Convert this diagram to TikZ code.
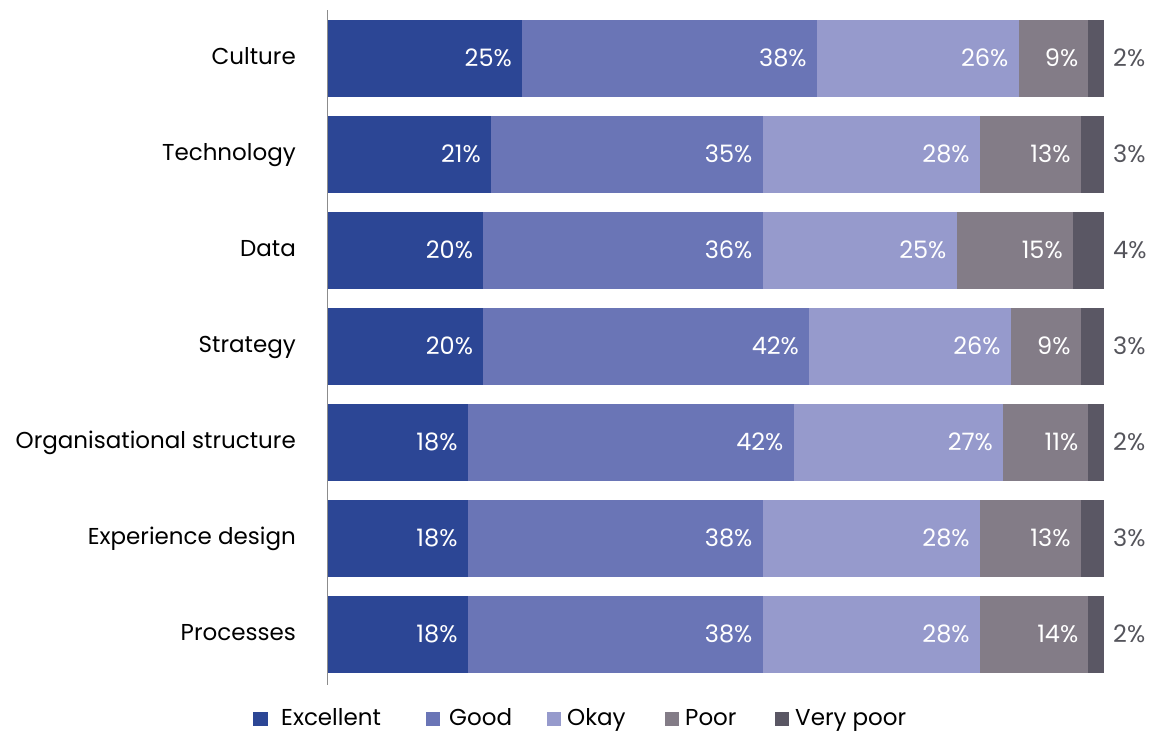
\documentclass[tikz,border=0pt]{standalone}
\usepackage{fontspec}
\setmainfont{Poppins}
\definecolor{cExc}{RGB}{44,70,149}
\definecolor{cGood}{RGB}{106,117,182}
\definecolor{cOkay}{RGB}{150,154,204}
\definecolor{cPoor}{RGB}{131,124,135}
\definecolor{cVP}{RGB}{90,87,100}
\definecolor{cOut}{RGB}{85,85,92}
\definecolor{cAxis}{RGB}{140,140,140}
\begin{document}
\begin{tikzpicture}[x=1pt,y=-1pt,
  cat/.style={anchor=base east,font=\fontsize{23}{27}\selectfont,text=black,inner sep=0pt},
  pct/.style={anchor=base east,font=\fontsize{24}{28}\selectfont,text=white,inner sep=0pt},
  outpct/.style={anchor=base west,font=\fontsize{24}{28}\selectfont,text=cOut,inner sep=0pt},
  leg/.style={anchor=base west,font=\fontsize{23}{27}\selectfont,text=black,inner sep=0pt},
  legbox/.style={minimum size=14.5pt,inner sep=0pt}]
\useasboundingbox (0,0) rectangle (1160,732);
\foreach \nm/\va/\vb/\vc/\vd/\ve [count=\i from 0] in {
  Culture/25/38/26/9/2,
  Technology/21/35/28/13/3,
  Data/20/36/25/15/4,
  Strategy/20/42/26/9/3,
  Organisational structure/18/42/27/11/2,
  Experience design/18/38/28/13/3,
  Processes/18/38/28/14/2}{
  \pgfmathsetmacro\yc{58+96*\i}
  \pgfmathsetmacro\yt{\yc-38.5}
  \pgfmathsetmacro\yb{\yc+38.5}
  \pgfmathsetmacro\xa{328+7.76*\va}
  \pgfmathsetmacro\xb{\xa+7.76*\vb}
  \pgfmathsetmacro\xc{\xb+7.76*\vc}
  \pgfmathsetmacro\xd{\xc+7.76*\vd}
  \pgfmathsetmacro\xe{\xd+7.76*\ve}
  \fill[cExc] (328,\yt) rectangle (\xa,\yb);
  \fill[cGood] (\xa,\yt) rectangle (\xb,\yb);
  \fill[cOkay] (\xb,\yt) rectangle (\xc,\yb);
  \fill[cPoor] (\xc,\yt) rectangle (\xd,\yb);
  \fill[cVP] (\xd,\yt) rectangle (\xe,\yb);
  \node[cat] (lab\i) at (296,\yc+6.5) {\nm};
  \node[pct] (pa\i) at (\xa-10,\yc+8.5) {\va\%};
  \node[pct] (pb\i) at (\xb-10,\yc+8.5) {\vb\%};
  \node[pct] (pc\i) at (\xc-10,\yc+8.5) {\vc\%};
  \node[pct] (pd\i) at (\xd-10,\yc+8.5) {\vd\%};
  \node[outpct] (pe\i) at (\xe+9,\yc+8.5) {\ve\%};
}
\draw[cAxis,line width=1.3pt] (327.5,10) -- (327.5,685);
% legend
\node[legbox,fill=cExc] (k1) at (260.5,719) {};
\node[leg] (t1) at (281,725.5) {Excellent};
\node[legbox,fill=cGood] (k2) at (433,719) {};
\node[leg] (t2) at (449,725.5) {Good};
\node[legbox,fill=cOkay] (k3) at (554,719) {};
\node[leg] (t3) at (567,725.5) {Okay};
\node[legbox,fill=cPoor] (k4) at (672,719) {};
\node[leg] (t4) at (685,725.5) {Poor};
\node[legbox,fill=cVP] (k5) at (782,719) {};
\node[leg] (t5) at (795,725.5) {Very poor};
\end{tikzpicture}
\end{document}
